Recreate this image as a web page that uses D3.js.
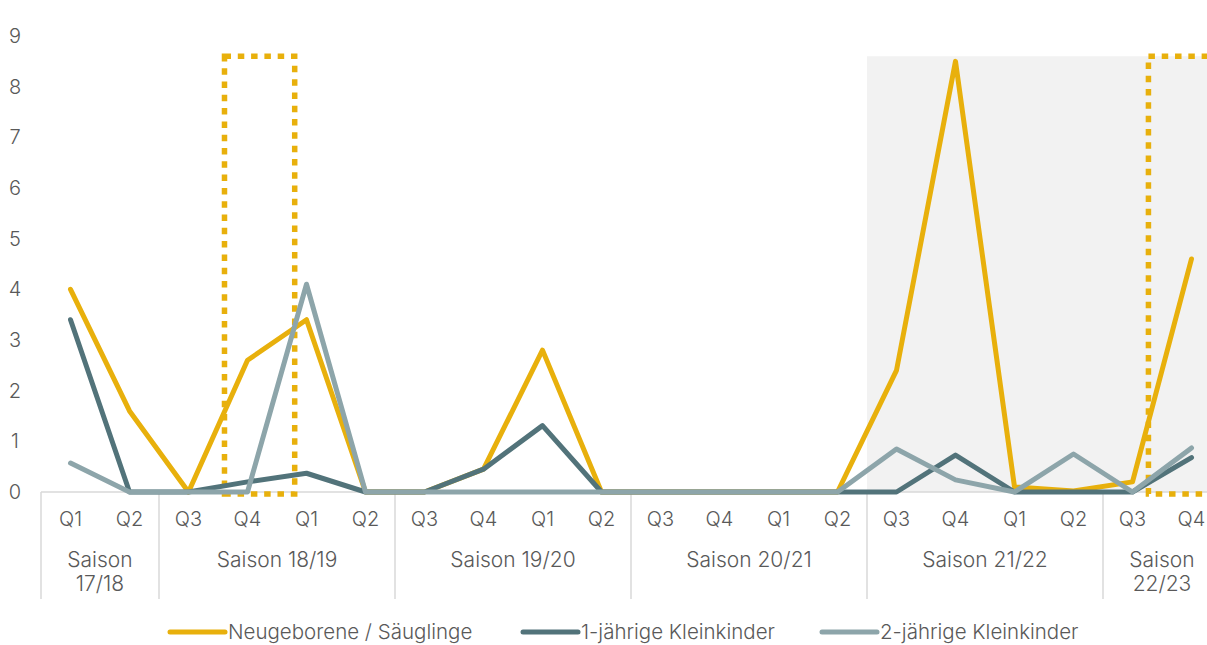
<!DOCTYPE html>
<html>
<head>
<meta charset="utf-8">
<script src="https://cdn.jsdelivr.net/npm/d3@7"></script>
<style>
  body { margin: 0; background: #fff; }
  svg { display: block; font-family: Inter, "Open Sans", sans-serif; font-weight: 300; }
</style>
</head>
<body>
<svg id="chart" width="1207" height="645"></svg>
<script>
// quarters along the x axis
var quarters = ["Q1","Q2","Q3","Q4","Q1","Q2","Q3","Q4","Q1","Q2","Q3","Q4","Q1","Q2","Q3","Q4","Q1","Q2","Q3","Q4"];
// seasons: label lines and number of quarters they cover
var seasonLabels = [["Saison","17/18"], ["Saison 18/19"], ["Saison 19/20"], ["Saison 20/21"], ["Saison 21/22"], ["Saison","22/23"]];
var seasonSizes = [2, 4, 4, 4, 4, 2];

var seriesNames = ["Neugeborene / Säuglinge", "1-jährige Kleinkinder", "2-jährige Kleinkinder"];
var neugeborene = [4.0, 1.6, 0, 2.6, 3.4, 0, 0, 0.45, 2.8, 0, 0, 0, 0, 0, 2.4, 8.5, 0.1, 0.02, 0.2, 4.6];
var einjaehrige = [3.4, 0, 0, 0.2, 0.37, 0, 0, 0.45, 1.31, 0, 0, 0, 0, 0, 0, 0.73, 0, 0, 0, 0.68];
var zweijaehrige = [0.57, 0, 0, 0, 4.1, 0, 0, 0, 0, 0, 0, 0, 0, 0, 0.85, 0.24, 0, 0.75, 0, 0.87];

var yTicks = [0,1,2,3,4,5,6,7,8,9];

// shaded period (in quarter index units) and dotted boxes
var shadeFrom = 13.5, shadeTo = 19.6, shadeTop = 8.6;
var boxes = [
  {x0: 2.61, x1: 3.8, top: 8.6, bottom: -0.04},
  {x0: 18.27, x1: 20.2, top: 8.6, bottom: -0.04}
];

var colors = ["#e8b00c", "#52737a", "#8da5aa"];
var textColor = "#595959";
var gridColor = "#d9d9d9";

var svg = d3.select("#chart");

var x = d3.scaleBand().domain(d3.range(quarters.length)).range([41, 1221]).padding(0);
// continuous position in index units (index i -> centre of band i)
var xi = d3.scaleLinear()
  .domain([-0.5, quarters.length - 0.5])
  .range(x.range());
var y = d3.scaleLinear().domain([0, 9]).range([492, 36]);

// grey shading
svg.append("rect")
  .attr("x", xi(shadeFrom))
  .attr("y", y(shadeTop))
  .attr("width", xi(shadeTo) - xi(shadeFrom))
  .attr("height", y(0) - y(shadeTop))
  .attr("fill", "#f2f2f2");

// y labels
svg.append("g").selectAll("text")
  .data(yTicks).enter().append("text")
  .attr("x", 15)
  .attr("y", d => y(d))
  .attr("dy", "0.35em")
  .attr("text-anchor", "middle")
  .attr("fill", textColor)
  .attr("font-size", 20)
  .text(d => d);

// x axis baseline
svg.append("line")
  .attr("x1", x.range()[0]).attr("x2", x.range()[1])
  .attr("y1", y(0)).attr("y2", y(0))
  .attr("stroke", gridColor).attr("stroke-width", 1.5);

// quarter labels
svg.append("g").selectAll("text")
  .data(quarters).enter().append("text")
  .attr("x", (d, i) => x(i) + x.bandwidth() / 2)
  .attr("y", 519)
  .attr("dy", "0.35em")
  .attr("text-anchor", "middle")
  .attr("fill", textColor)
  .attr("font-size", 20)
  .text(d => d);

// season separators and labels
var start = 0;
var seasons = seasonSizes.map(function (n, k) {
  var s = {start: start, n: n, label: seasonLabels[k]};
  start += n;
  return s;
});
var sepG = svg.append("g");
seasons.forEach(function (s) {
  sepG.append("line")
    .attr("x1", xi(s.start - 0.5)).attr("x2", xi(s.start - 0.5))
    .attr("y1", y(0)).attr("y2", 599)
    .attr("stroke", gridColor).attr("stroke-width", 1.5);
  var t = sepG.append("text")
    .attr("x", xi(s.start - 0.5 + s.n / 2))
    .attr("y", 560)
    .attr("text-anchor", "middle")
    .attr("fill", textColor)
    .attr("font-size", 21);
  s.label.forEach(function (l, j) {
    t.append("tspan")
      .attr("x", xi(s.start - 0.5 + s.n / 2))
      .attr("y", 560 + j * 24)
      .attr("dy", "0.35em")
      .text(l);
  });
});

// dotted boxes
svg.append("g").selectAll("rect")
  .data(boxes).enter().append("rect")
  .attr("x", d => xi(d.x0))
  .attr("y", d => y(d.top))
  .attr("width", d => xi(d.x1) - xi(d.x0))
  .attr("height", d => y(d.bottom) - y(d.top))
  .attr("fill", "none")
  .attr("stroke", colors[0])
  .attr("stroke-width", 5.5)
  .attr("stroke-dasharray", "6.5,6.8");

// lines
var allSeries = [neugeborene, einjaehrige, zweijaehrige];
var line = d3.line()
  .x((d, i) => x(i) + x.bandwidth() / 2)
  .y(d => y(d));

svg.append("g").selectAll("path")
  .data(allSeries).enter().append("path")
  .attr("d", d => line(d))
  .attr("fill", "none")
  .attr("stroke", (d, i) => colors[i])
  .attr("stroke-width", 5)
  .attr("stroke-linejoin", "round")
  .attr("stroke-linecap", "round");

// legend
var legendX = [170, 523, 822];
var lg = svg.append("g").selectAll("g")
  .data(seriesNames).enter().append("g")
  .attr("transform", (d, i) => "translate(" + legendX[i] + ",632)");
lg.append("line")
  .attr("x1", 0).attr("x2", 55)
  .attr("stroke", (d, i) => colors[i])
  .attr("stroke-width", 5)
  .attr("stroke-linecap", "round");
lg.append("text")
  .attr("x", 58)
  .attr("dy", "0.35em")
  .attr("fill", textColor)
  .attr("font-size", 20.5)
  .text(d => d);
</script>
</body>
</html>
